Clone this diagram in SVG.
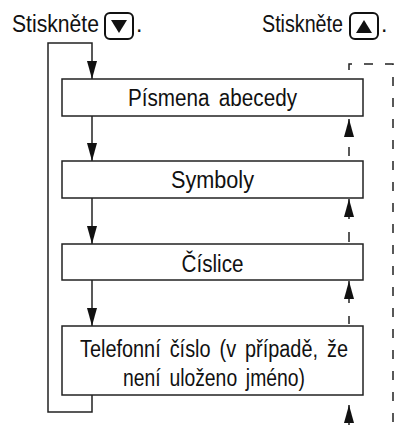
<svg xmlns="http://www.w3.org/2000/svg" width="394" height="425" viewBox="0 0 394 425">
<style>
text{font-family:"Liberation Sans",Arial,sans-serif;font-size:23px;fill:#111}
.box{fill:#fff;stroke:#222;stroke-width:1.5}
.ln{fill:none;stroke:#222;stroke-width:1.5}
.btn{fill:#fff;stroke:#111;stroke-width:2}
.ws{word-spacing:4px}
</style>
<defs>
<marker id="ah" markerUnits="userSpaceOnUse" markerWidth="18" markerHeight="10" refX="18" refY="5" orient="auto" viewBox="0 0 18 10">
<path d="M0,0 L18,5 L0,10 z" fill="#111"/>
</marker>
</defs>
<g id="title-left">
<text x="12" y="32" textLength="87" lengthAdjust="spacingAndGlyphs">Stiskněte</text>
<rect class="btn" x="105" y="13" width="28" height="26" rx="5"/>
<path d="M111,20 L127,20 L119,33 z" fill="#111"/>
<text x="136" y="32">.</text>
</g>
<g id="title-right">
<text x="262" y="32" textLength="81" lengthAdjust="spacingAndGlyphs">Stiskněte</text>
<rect class="btn" x="350" y="13" width="28" height="26" rx="5"/>
<path d="M356,33 L372,33 L364,20 z" fill="#111"/>
<text x="381" y="32">.</text>
</g>
<g id="connectors">
<path class="ln" d="M92,395 L92,412 L48,412 L48,43 L92,43 L92,79" marker-end="url(#ah)"/>
<line class="ln" x1="92" y1="116" x2="92" y2="161" marker-end="url(#ah)"/>
<line class="ln" x1="92" y1="198" x2="92" y2="244" marker-end="url(#ah)"/>
<line class="ln" x1="92" y1="280" x2="92" y2="326" marker-end="url(#ah)"/>
<line class="ln" x1="349" y1="156" x2="349" y2="147"/>
<line class="ln" x1="349" y1="137" x2="349" y2="119" marker-end="url(#ah)"/>
<line class="ln" x1="349" y1="242" x2="349" y2="232"/>
<line class="ln" x1="349" y1="219" x2="349" y2="199" marker-end="url(#ah)"/>
<line class="ln" x1="349" y1="324" x2="349" y2="316"/>
<line class="ln" x1="349" y1="303" x2="349" y2="281" marker-end="url(#ah)"/>
<line class="ln" x1="349" y1="425" x2="349" y2="405" marker-end="url(#ah)"/>
<path class="ln" d="M349,70 L349,64 L393,64 L393,425" stroke-dasharray="9 12"/>
</g>
<g id="node-pismena">
<rect class="box" x="62" y="79" width="301" height="37"/>
<text class="ws" x="212.5" y="106" text-anchor="middle" textLength="169" lengthAdjust="spacingAndGlyphs">Písmena abecedy</text>
</g>
<g id="node-symboly">
<rect class="box" x="62" y="161" width="301" height="37"/>
<text x="212.5" y="188" text-anchor="middle" textLength="83" lengthAdjust="spacingAndGlyphs">Symboly</text>
</g>
<g id="node-cislice">
<rect class="box" x="62" y="244" width="301" height="36"/>
<text x="212.5" y="272" text-anchor="middle" textLength="62" lengthAdjust="spacingAndGlyphs">Číslice</text>
</g>
<g id="node-telefon">
<rect class="box" x="62" y="326" width="301" height="69"/>
<text class="ws" x="214" y="357" text-anchor="middle" textLength="268" lengthAdjust="spacingAndGlyphs">Telefonní číslo (v případě, že</text>
<text class="ws" x="214" y="386" text-anchor="middle" textLength="182" lengthAdjust="spacingAndGlyphs">není uloženo jméno)</text>
</g>
</svg>
